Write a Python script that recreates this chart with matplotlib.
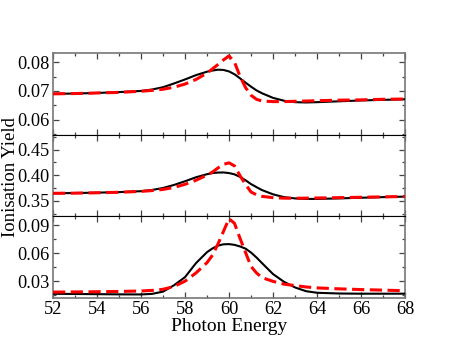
import matplotlib
matplotlib.use("Agg")
import matplotlib.pyplot as plt
from matplotlib.ticker import MultipleLocator

energy = [52, 53, 54, 55, 56, 56.5, 57, 57.5, 58, 58.5, 59, 59.25, 59.5, 59.75,
          60, 60.25, 60.5, 60.75, 61, 61.25, 61.5, 62, 62.5, 63, 63.5, 64, 65, 66, 67, 68]

top_black = [0.0690, 0.0691, 0.0693, 0.0696, 0.0700, 0.0705, 0.0713, 0.0726, 0.0740, 0.0755,
             0.0767, 0.0771, 0.0774, 0.0773, 0.0768, 0.0758, 0.0744, 0.0729, 0.0715, 0.0702,
             0.0692, 0.0676, 0.0666, 0.0661, 0.0660, 0.0661, 0.0664, 0.0667, 0.0669, 0.0671]
top_red = [0.0690, 0.0691, 0.0693, 0.0695, 0.0699, 0.0702, 0.0706, 0.0713, 0.0724, 0.0740,
           0.0762, 0.0777, 0.0792, 0.0808, 0.0822, 0.0800, 0.0751, 0.0712, 0.0685, 0.0671,
           0.0665, 0.0663, 0.0663, 0.0664, 0.0665, 0.0666, 0.0668, 0.0669, 0.0671, 0.0672]

mid_black = [0.3645, 0.3650, 0.3657, 0.3668, 0.3686, 0.3710, 0.3748, 0.3808, 0.3880, 0.3958,
             0.4018, 0.4040, 0.4050, 0.4052, 0.4040, 0.4015, 0.3965, 0.3900, 0.3825, 0.3765,
             0.3708, 0.3625, 0.3570, 0.3545, 0.3535, 0.3535, 0.3545, 0.3558, 0.3570, 0.3580]
mid_red = [0.3645, 0.3648, 0.3655, 0.3665, 0.3682, 0.3698, 0.3720, 0.3760, 0.3820, 0.3900,
           0.4000, 0.4060, 0.4140, 0.4210, 0.4240, 0.4180, 0.3990, 0.3820, 0.3670, 0.3615,
           0.3585, 0.3560, 0.3550, 0.3548, 0.3550, 0.3553, 0.3560, 0.3567, 0.3575, 0.3582]

bot_black = [0.0167, 0.0165, 0.0163, 0.0161, 0.0160, 0.0166, 0.0190, 0.0258, 0.0345, 0.0495,
             0.0612, 0.0652, 0.0682, 0.0696, 0.0698, 0.0690, 0.0673, 0.0650, 0.0608, 0.0555,
             0.0495, 0.0378, 0.0295, 0.0235, 0.0195, 0.0178, 0.0170, 0.0168, 0.0168, 0.0168]
bot_red = [0.0185, 0.0187, 0.0189, 0.0192, 0.0197, 0.0203, 0.0215, 0.0245, 0.0302, 0.0390,
           0.0500, 0.0580, 0.0700, 0.0835, 0.0970, 0.0920, 0.0760, 0.0610, 0.0460, 0.0390,
           0.0340, 0.0300, 0.0270, 0.0255, 0.0240, 0.0230, 0.0220, 0.0212, 0.0206, 0.0200]

x_ticks = [52, 54, 56, 58, 60, 62, 64, 66, 68]
top_ticks = [0.06, 0.07, 0.08]
mid_ticks = [0.35, 0.40, 0.45]
bot_ticks = [0.03, 0.06, 0.09]

plt.rcParams['font.family'] = ['Liberation Serif', 'DejaVu Serif']

fig = plt.figure(figsize=(4.58, 3.54), dpi=100)
gs = fig.add_gridspec(3, 1, left=53/458, right=405/458, top=1-53/354, bottom=1-298/354, hspace=0)
axes = [fig.add_subplot(gs[i]) for i in range(3)]

panels = [
    (top_black, top_red, top_ticks, (0.0548, 0.0832), 0.005, ['0.06', '0.07', '0.08']),
    (mid_black, mid_red, mid_ticks, (0.3195, 0.479), 0.025, ['0.35', '0.40', '0.45']),
    (bot_black, bot_red, bot_ticks, (0.0122, 0.0995), 0.015, ['0.03', '0.06', '0.09']),
]

grey = '#777777'
for i, (ax, (bk, rd, yt, yl, minor, labs)) in enumerate(zip(axes, panels)):
    ax.plot(energy, bk, color='black', lw=1.5, zorder=3)
    ax.plot(energy, rd, color='red', lw=2.2, ls=(0, (4.0, 1.8)), zorder=4)
    ax.set_xlim(52, 68)
    ax.set_ylim(*yl)
    ax.set_yticks(yt)
    ax.set_yticklabels(labs)
    ax.yaxis.set_minor_locator(MultipleLocator(minor))
    ax.set_xticks(x_ticks)
    ax.xaxis.set_minor_locator(MultipleLocator(1))
    ax.tick_params(which='both', direction='in', top=True, right=True, labelsize=13.2,
                   color='#444444', width=0.9, pad=2.5)
    ax.tick_params(which='major', length=4.5)
    ax.tick_params(which='minor', length=2.5)
    for s in ['left', 'right']:
        ax.spines[s].set_color(grey)
        ax.spines[s].set_linewidth(1.2)
    ax.spines['top'].set_color(grey if i == 0 else 'black')
    ax.spines['bottom'].set_color(grey if i == 2 else 'black')
    ax.spines['top'].set_linewidth(1.2 if i == 0 else 0.8)
    ax.spines['bottom'].set_linewidth(1.2 if i == 2 else 0.8)
    if i < 2:
        ax.tick_params(labelbottom=False)

axes[2].set_xlabel('Photon Energy', fontsize=14, labelpad=0)
fig.text(10.5/458, 1-177/354, 'Ionisation Yield', rotation=90, fontsize=13.5,
         ha='center', va='center')

fig.savefig('out.png', dpi=100)
